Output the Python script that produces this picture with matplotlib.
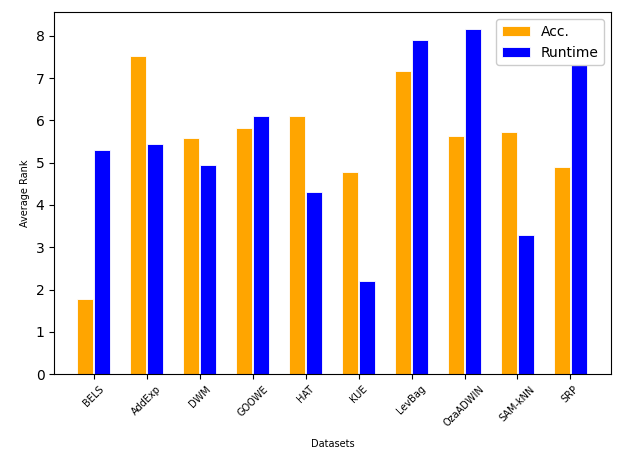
import matplotlib
matplotlib.use("Agg")
import matplotlib.pyplot as plt
import numpy as np

methods = ["BELS", "AddExp", "DWM", "GOOWE", "HAT", "KUE",
           "LevBag", "OzaADWIN", "SAM-kNN", "SRP"]
acc_rank = [1.78, 7.53, 5.59, 5.83, 6.10, 4.77, 7.17, 5.63, 5.73, 4.90]
runtime_rank = [5.30, 5.45, 4.95, 6.10, 4.30, 2.20, 7.91, 8.15, 3.30, 7.40]

x = np.arange(len(methods))
w = 0.3
off = 0.16

fig = plt.figure(figsize=(6.23, 4.66), dpi=100)
ax = fig.add_axes([0.087, 0.197, 0.894, 0.777])

ax.bar(x - off, acc_rank, w, color="orange", edgecolor="white", linewidth=0.6, label="Acc.")
ax.bar(x + off, runtime_rank, w, color="blue", edgecolor="white", linewidth=0.6, label="Runtime")

ax.set_xticks(x)
ax.set_xticklabels(methods, rotation=45, fontsize=7)
ax.tick_params(axis="y", labelsize=10)
ax.set_xlim(-0.75, 9.77)
ax.set_xlabel("Datasets", fontsize=7, labelpad=8)
ax.set_ylabel("Average Rank", fontsize=7)
ax.legend(loc="upper right", fontsize=10, framealpha=1)

fig.savefig("out.png", dpi=100)
